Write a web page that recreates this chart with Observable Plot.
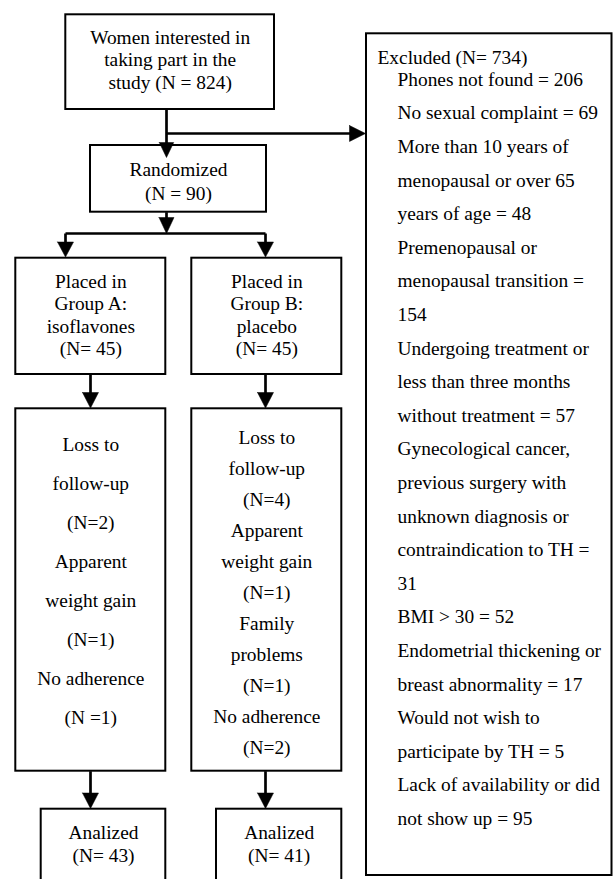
<!DOCTYPE html>
<html><head><meta charset="utf-8">
<script src="https://cdn.jsdelivr.net/npm/d3@7"></script>
<script src="https://cdn.jsdelivr.net/npm/@observablehq/plot@0.6"></script>
<style>
html,body{margin:0;padding:0;background:#fff;overflow:hidden}
#chart svg text{font-family:'Liberation Serif','Times New Roman',Times,serif !important;}
</style>
</head><body><div id="chart"></div>
<script>
// ---- DATA (text content of the flowchart) ----
const enrolledText = ["Women interested in", "taking part in the", "study (N = 824)"];
const randomizedText = ["Randomized", "(N = 90)"];
const groupAText = ["Placed in", "Group A:", "isoflavones", "(N= 45)"];
const groupBText = ["Placed in", "Group B:", "placebo", "(N= 45)"];
const lossAText = ["Loss to", "follow-up", "(N=2)", "Apparent", "weight gain", "(N=1)", "No adherence", "(N =1)"];
const lossBText = ["Loss to", "follow-up", "(N=4)", "Apparent", "weight gain", "(N=1)", "Family", "problems", "(N=1)", "No adherence", "(N=2)"];
const analyzedAText = ["Analized", "(N= 43)"];
const analyzedBText = ["Analized", "(N= 41)"];
const excludedTitle = ["Excluded (N= 734)"];
const excludedLines = [
  "Phones not found = 206",
  "No sexual complaint = 69",
  "More than 10 years of",
  "menopausal or over 65",
  "years of age = 48",
  "Premenopausal or",
  "menopausal transition =",
  "154",
  "Undergoing treatment or",
  "less than three months",
  "without treatment = 57",
  "Gynecological cancer,",
  "previous surgery with",
  "unknown diagnosis or",
  "contraindication to TH =",
  "31",
  "BMI > 30 = 52",
  "Endometrial thickening or",
  "breast abnormality = 17",
  "Would not wish to",
  "participate by TH = 5",
  "Lack of availability or did",
  "not show up = 95"
];

// ---- LAYOUT (page geometry of the flowchart, in pixels) ----
const W = 613, H = 879;
const boxes = [
  {x1: 65.3, x2: 274, y1: 14.3, y2: 109, lines: enrolledText, ty: 37, dy: 22.5},
  {x1: 90, x2: 266, y1: 145, y2: 211.7, lines: randomizedText, ty: 169, dy: 24},
  {x1: 15.3, x2: 165.3, y1: 257.7, y2: 374, lines: groupAText, ty: 281, dy: 22.4},
  {x1: 191.3, x2: 341.3, y1: 257.7, y2: 374, lines: groupBText, ty: 281, dy: 22.4},
  {x1: 15.3, x2: 165.3, y1: 408.3, y2: 770.7, lines: lossAText, ty: 444, dy: 39},
  {x1: 191.3, x2: 341.3, y1: 408.3, y2: 770.7, lines: lossBText, ty: 437, dy: 31},
  {x1: 40.7, x2: 165.3, y1: 808.7, y2: 900, lines: analyzedAText, ty: 832, dy: 23},
  {x1: 216, x2: 341.3, y1: 808.7, y2: 900, lines: analyzedBText, ty: 832, dy: 23},
  {x1: 366, x2: 611.5, y1: 33.3, y2: 875, lines: [], ty: 0, dy: 0}
];
const excludedLayout = {titleX: 377, titleY: 57, itemX: 397, itemY: 79, dy: 33.6};

const segments = [
  {x1: 166, y1: 109, x2: 166, y2: 143},
  {x1: 166, y1: 133, x2: 351, y2: 133},
  {x1: 166, y1: 211.7, x2: 166, y2: 218},
  {x1: 65, y1: 233, x2: 265, y2: 233},
  {x1: 65, y1: 233, x2: 65, y2: 243},
  {x1: 265, y1: 233, x2: 265, y2: 243},
  {x1: 90, y1: 374, x2: 90, y2: 394},
  {x1: 265, y1: 374, x2: 265, y2: 394},
  {x1: 90, y1: 770.7, x2: 90, y2: 795},
  {x1: 265, y1: 770.7, x2: 265, y2: 795}
];
const arrowHeads = [
  {x: 166, y: 157, dir: "down", len: 15, hw: 7.2},
  {x: 365, y: 133, dir: "right", len: 16, hw: 8},
  {x: 166, y: 233, dir: "down", len: 16, hw: 7.5},
  {x: 65, y: 256.5, dir: "down", len: 15, hw: 8},
  {x: 265, y: 256.5, dir: "down", len: 15, hw: 8},
  {x: 90, y: 407.5, dir: "down", len: 15.5, hw: 8},
  {x: 265, y: 407.5, dir: "down", len: 15.5, hw: 8},
  {x: 90, y: 808, dir: "down", len: 15.5, hw: 8},
  {x: 265, y: 808, dir: "down", len: 15.5, hw: 8}
];

// ---- build mark tables ----
const textRows = [];
boxes.forEach(b => b.lines.forEach((t, i) => textRows.push({x: (b.x1 + b.x2) / 2, y: b.ty + i * b.dy, text: t})));
const leftRows = [{x: excludedLayout.titleX, y: excludedLayout.titleY, text: excludedTitle[0]}];
excludedLines.forEach((t, i) => leftRows.push({x: excludedLayout.itemX, y: excludedLayout.itemY + i * excludedLayout.dy, text: t}));

const triPts = [];
arrowHeads.forEach((a, k) => {
  let pts;
  if (a.dir === "down") pts = [[a.x - a.hw, a.y - a.len], [a.x + a.hw, a.y - a.len], [a.x, a.y], [a.x - a.hw, a.y - a.len]];
  else pts = [[a.x - a.len, a.y - a.hw], [a.x - a.len, a.y + a.hw], [a.x, a.y], [a.x - a.len, a.y - a.hw]];
  pts.forEach(p => triPts.push({id: k, x: p[0], y: p[1]}));
});

const font = "'Liberation Serif', 'Times New Roman', Times, serif";
const chart = Plot.plot({
  width: W, height: H, margin: 0,
  x: {domain: [0, W], range: [0, W], axis: null},
  y: {domain: [0, H], range: [0, H], axis: null},
  style: {background: "#fff", overflow: "hidden", fontFamily: font},
  marks: [
    Plot.rect(boxes, {x1: "x1", x2: "x2", y1: "y1", y2: "y2", fill: "white", stroke: "black", strokeWidth: 2}),
    Plot.link(segments, {x1: "x1", y1: "y1", x2: "x2", y2: "y2", stroke: "black", strokeWidth: 2.7}),
    Plot.line(triPts, {x: "x", y: "y", z: "id", fill: "black", stroke: "black", strokeWidth: 0.5}),
    Plot.text(textRows, {x: "x", y: "y", text: "text", fontSize: 19.4, fontFamily: font, fill: "black", textAnchor: "middle", lineAnchor: "middle"}),
    Plot.text(leftRows, {x: "x", y: "y", text: "text", fontSize: 19.4, fontFamily: font, fill: "black", textAnchor: "start", lineAnchor: "middle"})
  ]
});
document.getElementById("chart").appendChild(chart);
</script>
</body></html>
